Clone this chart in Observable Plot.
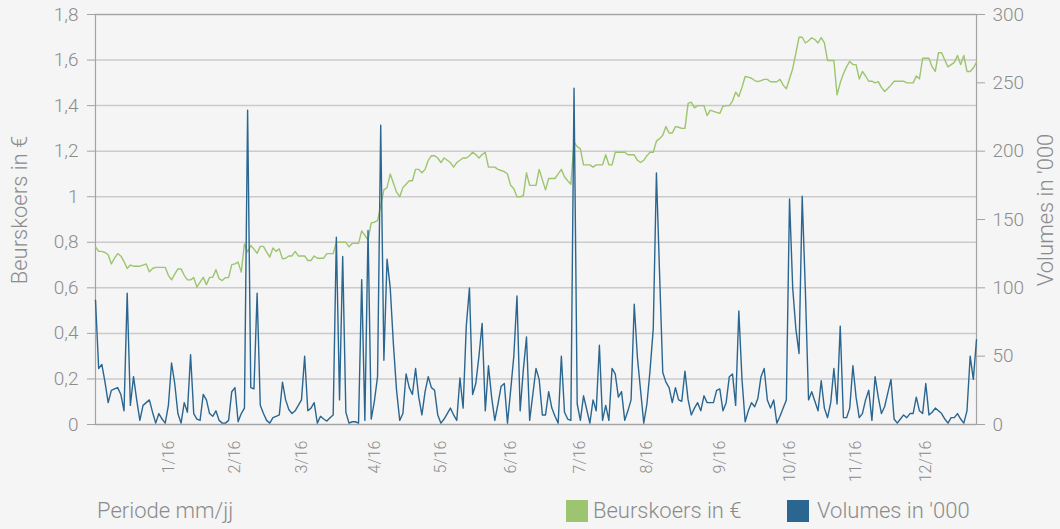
<!DOCTYPE html>
<html><head><meta charset="utf-8">
<script src="https://cdn.jsdelivr.net/npm/d3@7"></script>
<script src="https://cdn.jsdelivr.net/npm/@observablehq/plot@0.6"></script>
<style>
body{margin:0;background:#f5f5f5;}
#wrap{position:relative;width:1060px;height:529px;overflow:hidden;font-family:Roboto,"Open Sans",sans-serif;font-weight:300;color:#8c8c8c;background:#f5f5f5;}
#chart{position:absolute;left:0;top:0;}
.vt{position:absolute;white-space:nowrap;font-size:22px;transform:translate(-50%,-50%) rotate(-90deg);line-height:1;}
.lab{position:absolute;white-space:nowrap;font-size:22px;line-height:22px;}
.sw{position:absolute;width:22px;height:22px;}
</style></head><body>
<div id="wrap"><div id="chart"></div></div>
<script>
// ---- data ----
const monthLabels = ["1/16","2/16","3/16","4/16","5/16","6/16","7/16","8/16","9/16","10/16","11/16","12/16"];
const priceTicks = [0,0.2,0.4,0.6,0.8,1,1.2,1.4,1.6,1.8];
const volumeTicks = [0,50,100,150,200,250,300];
const priceLabel = "Beurskoers in €";
const volumeLabel = "Volumes in '000";
const periodLabel = "Periode mm/jj";
// Beurskoers in € (one value per trading day, Dec 2015 – Dec 2016)
const price = [
  0.78,0.76,0.76,0.755,0.745,0.705,0.73,0.75,0.74,0.715,0.685,0.70,0.695,0.695,0.695,0.70,0.705,0.67,0.685,0.69,0.69,0.69,0.69,
  0.655,0.635,0.66,0.683,0.683,0.655,0.635,0.635,0.645,0.603,0.625,0.646,0.614,0.646,0.646,0.68,0.64,0.632,0.645,0.645,0.702,
  0.705,0.713,0.669,0.793,0.757,0.786,0.77,0.752,0.782,0.782,0.757,0.735,0.775,0.76,0.771,0.727,0.73,0.74,0.74,0.76,0.74,
  0.74,0.74,0.72,0.72,0.74,0.73,0.73,0.73,0.75,0.75,0.75,0.80,0.80,0.80,0.80,0.78,0.795,0.795,0.795,0.85,0.83,0.81,0.885,
  0.888,0.895,0.96,1.03,1.04,1.10,1.06,1.02,1.00,1.04,1.055,1.07,1.07,1.12,1.12,1.105,1.12,1.16,1.18,1.18,1.17,
  1.15,1.17,1.16,1.15,1.13,1.15,1.16,1.17,1.17,1.18,1.195,1.185,1.17,1.185,1.195,1.13,1.13,1.13,1.12,1.115,1.11,1.10,
  1.05,1.035,1.0,1.0,1.005,1.105,1.05,1.05,1.05,1.12,1.075,1.03,1.08,1.08,1.08,1.10,1.12,1.087,1.07,1.055,1.24,1.22,
  1.21,1.14,1.14,1.14,1.13,1.14,1.14,1.14,1.184,1.14,1.14,1.195,1.195,1.195,1.195,1.184,1.184,1.184,1.16,1.15,1.16,
  1.18,1.195,1.195,1.244,1.255,1.27,1.308,1.28,1.28,1.308,1.305,1.30,1.30,1.41,1.415,1.39,1.40,1.40,1.40,1.356,1.38,1.375,1.37,
  1.366,1.397,1.40,1.40,1.42,1.459,1.44,1.48,1.528,1.525,1.52,1.51,1.505,1.51,1.515,1.515,1.505,1.505,1.505,1.515,1.49,1.474,
  1.518,1.562,1.63,1.70,1.70,1.675,1.685,1.698,1.69,1.675,1.698,1.675,1.598,1.598,1.598,1.447,1.50,1.54,1.57,1.594,1.58,
  1.58,1.517,1.55,1.53,1.507,1.507,1.50,1.505,1.48,1.462,1.475,1.49,1.507,1.507,1.507,1.507,1.50,1.50,1.50,1.53,1.518,1.608,
  1.608,1.608,1.57,1.55,1.632,1.632,1.60,1.57,1.58,1.59,1.62,1.58,1.62,1.55,1.55,1.565,1.59
];
// Volumes in '000
const volume = [
  91,41,44,31,16,25,26,27,22,10,96,14,35,18,3,14,16,18,9,1,8,4,1,
  14,45,30,8,1,16,9,51,8,4,3,22,18,8,6,10,3,1,1,3,24,
  27,2,8,12,230,27,26,96,14,8,3,1,5,6,7,31,18,11,8,10,14,
  18,50,10,12,16,1,6,4,2.5,5,7,137,18,123,9,1,2,2,1,106,3,142,4,
  17,35,219,47,121,100,59,25,3,8,37,27,22,41,20,7,24,35,27,25,7,
  1,4,8,12,7,3,34,12,72,100,22,30,50,74,10,43,20,3,15,28,30,1,
  25,50,94,10,40,64,3,22,41,33,7,7,24,12,6,1,50,9,4,3,246,15,
  3,21,11,1,18,10,58,3,14,3,41,37,20,24,3,10,18,88,49,25,1,
  15,40,70,184,110,38,31,27,16,27,18,17,39,18,7,12,16,10,21,16,16,16,25,
  26,10,16,35,37,14,83,33,2,10,16,13,19,35,41,18,12,18,1,6,12,18,
  165,100,70,52,167,98,18,24,17,10,32,12,5,16,41,15,72,5,5,12,43,
  20,5,8,18,25,3,35,20,8,13,23,33,4,1,4,7,5,8,8,20,10,8,
  30,7,9,12,10,8,4,1,5,5,8,4,1,10,50,33,62
];

const green = "#9dc46e", blue = "#2b6690";
const textGrey = "#8c8c8c", lineGrey = "#a3a3a3", gridGrey = "#cbcbcb";

// trading days (weekdays) as x categories
const dates = d3.utcDays(new Date(Date.UTC(2015,11,1)), new Date(Date.UTC(2016,11,24)))
  .filter(d => d.getUTCDay() % 6 !== 0)
  .map(d => d.toISOString().slice(0,10));
const n = Math.min(dates.length, price.length, volume.length);
const data = d3.range(n).map(i => ({date: dates[i], price: price[i], volume: volume[i]}));
const xDomain = data.map(d => d.date);

const priceMax = priceTicks[priceTicks.length-1], volumeMax = volumeTicks[volumeTicks.length-1];
const toY = v => v / volumeMax * priceMax;
const monthTicks = monthLabels.map((l, m) => xDomain.find(d => d.startsWith(`2016-${String(m+1).padStart(2,"0")}`)));
const tickLabel = new Map(monthTicks.map((d, i) => [d, monthLabels[i]]));

const chart = Plot.plot({
  width: 1060, height: 529,
  marginTop: 14, marginLeft: 95, marginRight: 84, marginBottom: 105,
  style: {background: "transparent", fontFamily: "Roboto, 'Open Sans', sans-serif", fontWeight: 300, color: textGrey, overflow: "visible"},
  x: {type: "point", domain: xDomain, padding: 0},
  y: {domain: [0, priceMax]},
  marks: [
    Plot.gridY(priceTicks, {stroke: gridGrey, strokeOpacity: 1, strokeWidth: 1.5}),
    Plot.frame({stroke: lineGrey, strokeWidth: 1.2}),
    Plot.axisY(priceTicks, {anchor: "left", tickSize: 8, tickPadding: 9, stroke: lineGrey, fill: textGrey, fontSize: 19,
      tickFormat: d => String(+d.toFixed(1)).replace(".", ","), label: null}),
    Plot.axisY(volumeTicks.map(toY), {anchor: "right", tickSize: 8, tickPadding: 8, stroke: lineGrey, fill: textGrey, fontSize: 19,
      tickFormat: d => String(Math.round(d / priceMax * volumeMax)), label: null}),
    Plot.axisX(monthTicks, {anchor: "bottom", tickRotate: -90, tickSize: 0, tickPadding: 16, fill: textGrey, fontSize: 16,
      tickFormat: d => tickLabel.get(d), label: null}),
    Plot.line(data, {x: "date", y: "price", stroke: green, strokeWidth: 1.4}),
    Plot.line(data, {x: "date", y: d => toY(d.volume), stroke: blue, strokeWidth: 1.4})
  ]
});
const wrap = document.getElementById("wrap");
document.getElementById("chart").appendChild(chart);

function add(html, cls, style) {
  const el = document.createElement("div");
  el.className = cls; el.textContent = html; Object.assign(el.style, style); wrap.appendChild(el); return el;
}
add(priceLabel, "vt", {left: "20px", top: "210px"});
add(volumeLabel, "vt", {left: "1046px", top: "210px"});
add(periodLabel, "lab", {left: "97px", top: "500px"});
const s1 = add("", "sw", {left: "566px", top: "500px", background: green});
add(priceLabel, "lab", {left: "593px", top: "500px"});
const s2 = add("", "sw", {left: "787px", top: "500px", background: blue});
add(volumeLabel, "lab", {left: "817px", top: "500px"});
</script>
</body></html>
